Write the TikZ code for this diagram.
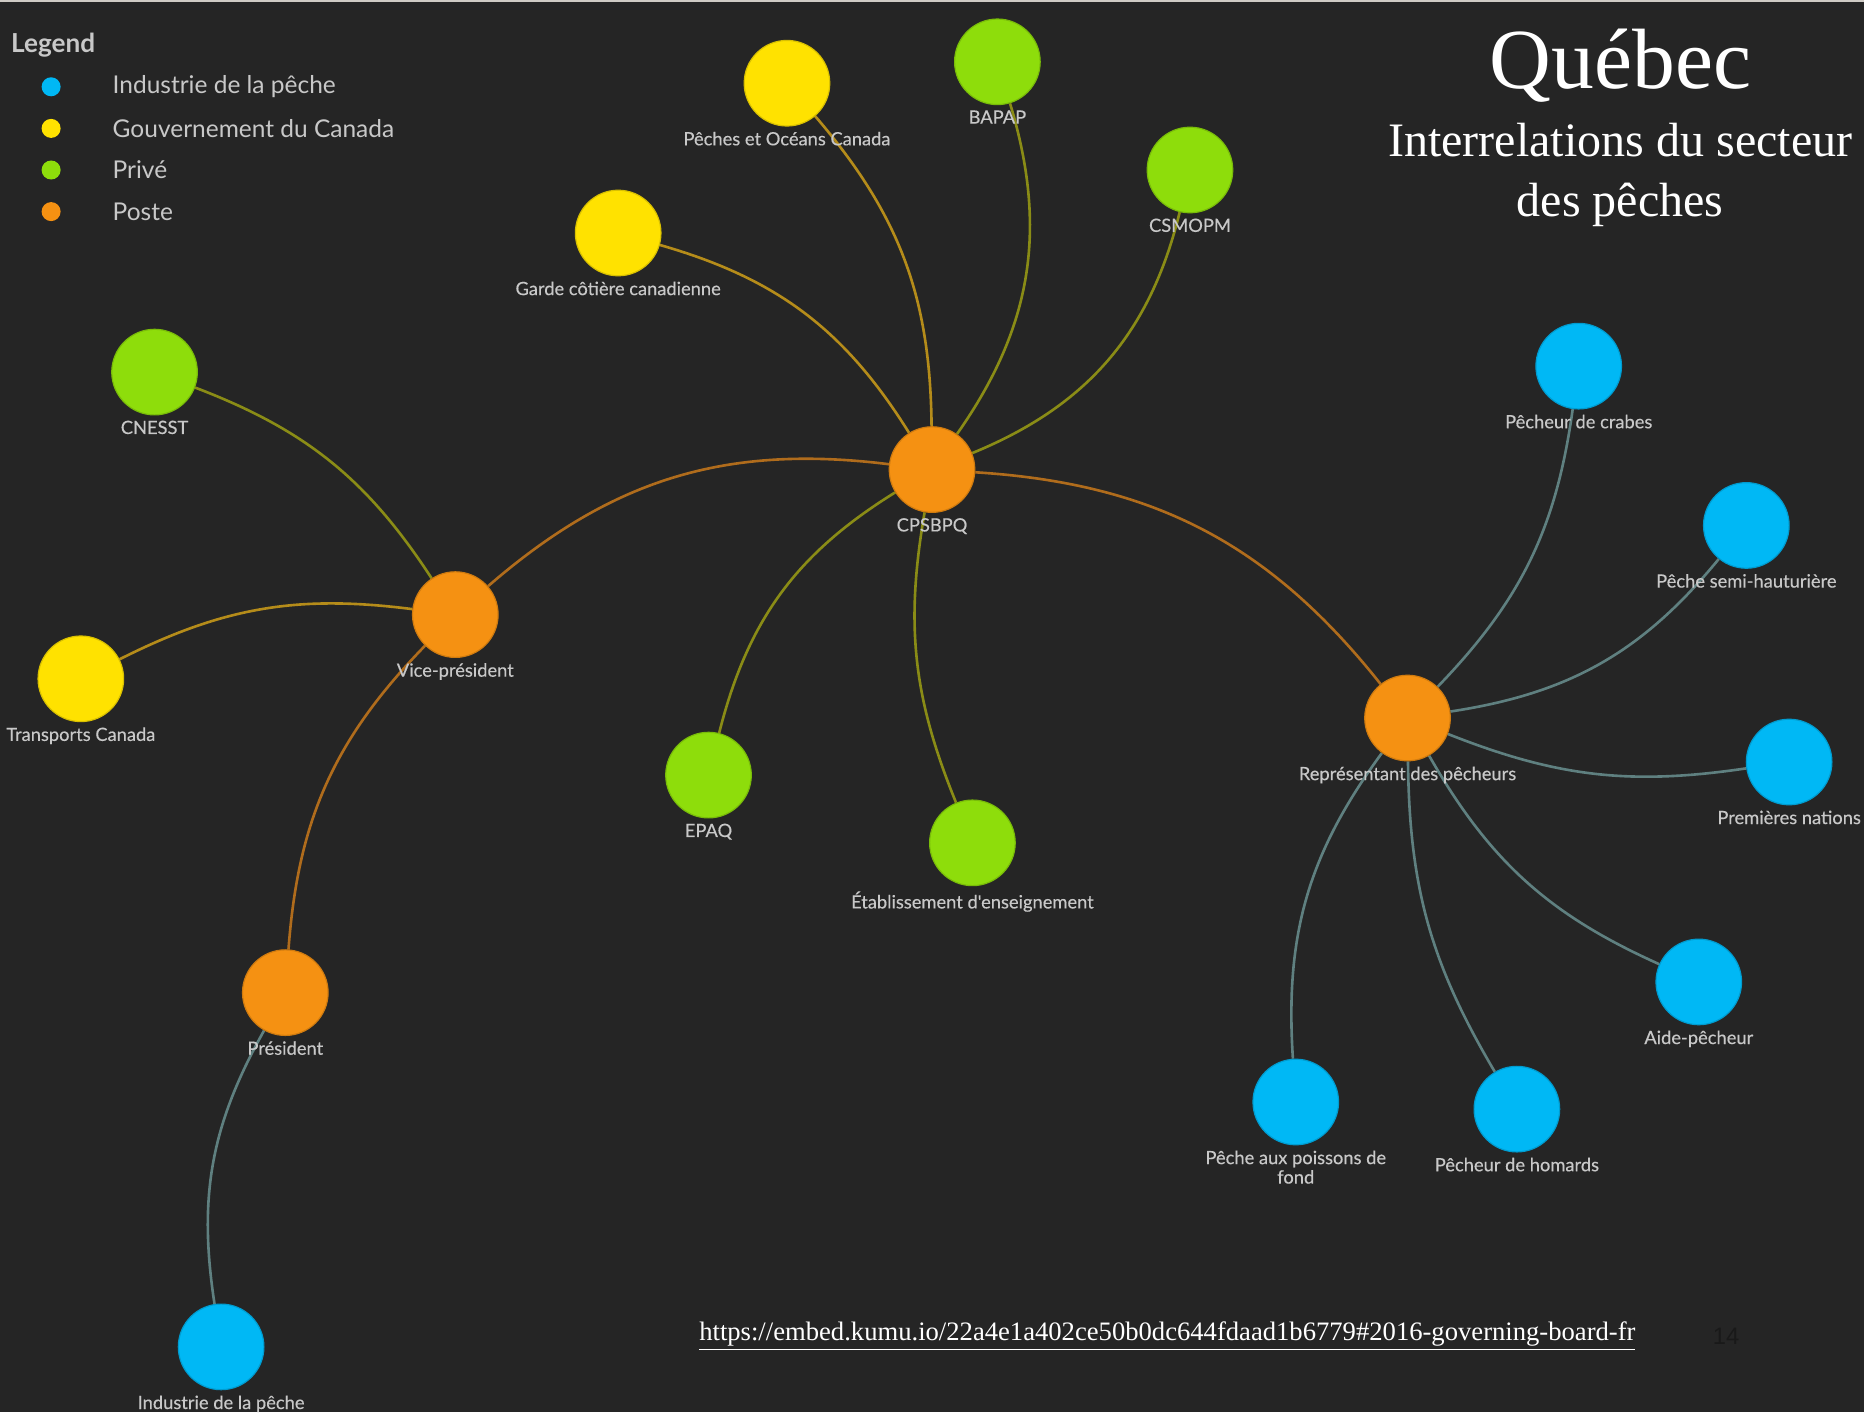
\documentclass[tikz,border=0pt]{standalone}
\usepackage{fontspec}
\setmainfont{Liberation Serif}
\newfontfamily\kumu{Lato}
\newfontfamily\kumulbl[FakeBold=0.3]{Lato}
\newfontfamily\pagenum{Liberation Sans}
\usetikzlibrary{positioning}

\definecolor{bgdark}{HTML}{252525}
\definecolor{topgray}{HTML}{CFCBC5}
\definecolor{peche}{HTML}{00B8F5}
\definecolor{gouv}{HTML}{FFE200}
\definecolor{prive}{HTML}{8EDD0B}
\definecolor{poste}{HTML}{F59112}
\definecolor{txtgray}{HTML}{C8C8C8}
\definecolor{linkO}{HTML}{B06C1C}
\definecolor{linkY}{HTML}{B58C1A}
\definecolor{linkG}{HTML}{8A8C16}
\definecolor{linkB}{HTML}{5F8080}

\pgfdeclarelayer{canvas}
\pgfdeclarelayer{links}
\pgfsetlayers{canvas,links,main}

\tikzset{
  ent/.style={circle, minimum size=36pt, inner sep=0pt, fill=#1, draw=#1!85!black, line width=0.5pt},
  lbl/.style={font=\kumulbl\fontsize{7.7}{8.2}\selectfont, text=txtgray, align=center, inner sep=0pt},
  lnk/.style={draw=#1, line width=1.1pt},
  legdot/.style={circle, minimum size=8pt, inner sep=0pt, fill=#1},
  legtxt/.style={font=\kumu\fontsize{10.3}{12}\selectfont, text=txtgray, inner sep=0pt}
}

\begin{document}
\begin{tikzpicture}[x=0.5pt, y=-0.5pt, label distance=2pt]
  \begin{pgfonlayer}{canvas}
    \fill[bgdark] (0,0) rectangle (1568,1188);
    \fill[topgray] (0,0) rectangle (1568,2);
  \end{pgfonlayer}

  \node[legtxt, font=\kumu\bfseries\fontsize{11}{13}\selectfont, anchor=west] (legend) at (9,38) {Legend};
  \node[legdot=peche] (kpeche) at (43,73) {};
  \node[legdot=gouv] (kgouv) at (43,108) {};
  \node[legdot=prive] (kprive) at (43,143) {};
  \node[legdot=poste] (kposte) at (43,178) {};
  \node[legtxt, right=21.5pt of kpeche] {Industrie de la pêche};
  \node[legtxt, right=21.5pt of kgouv] {Gouvernement du Canada};
  \node[legtxt, right=21.5pt of kprive] {Privé};
  \node[legtxt, right=21.5pt of kposte] {Poste};

  \node[text=white, font=\fontsize{36}{38}\selectfont] (qc) at (1363,55) {Québec};
  \node[text=white, font=\fontsize{20.2}{25}\selectfont, align=center] (sub) at (1363,147) {Interrelations du secteur\\des pêches};

  \node[ent=poste, label={[lbl]below:CPSBPQ}] (cps) at (784,395) {};
  \node[ent=poste, label={[lbl]below:Vice-président}] (vp) at (383,517) {};
  \node[ent=poste, label={[lbl]below:Président}] (pres) at (240,835) {};
  \node[ent=poste, label={[lbl]below:Représentant des pêcheurs}] (rep) at (1184,604) {};

  \node[ent=gouv, label={[lbl]below:Pêches et Océans Canada}] (mpo) at (662,70) {};
  \node[ent=gouv, label={[lbl]below:Garde côtière canadienne}] (garde) at (520,196) {};
  \node[ent=gouv, label={[lbl]below:Transports Canada}] (tc) at (68,571) {};

  \node[ent=prive, label={[lbl]below:BAPAP}] (bapap) at (839,52) {};
  \node[ent=prive, label={[lbl]below:CSMOPM}] (csmopm) at (1001,143) {};
  \node[ent=prive, label={[lbl]below:CNESST}] (cnesst) at (130,313) {};
  \node[ent=prive, label={[lbl]below:EPAQ}] (epaq) at (596,652) {};
  \node[ent=prive, label={[lbl]below:Établissement d'enseignement}] (etab) at (818,709) {};

  \node[ent=peche, label={[lbl]below:Pêcheur de crabes}] (crabes) at (1328,308) {};
  \node[ent=peche, label={[lbl]below:Pêche semi-hauturière}] (semi) at (1469,442) {};
  \node[ent=peche, label={[lbl]below:Premières nations}] (pn) at (1505,641) {};
  \node[ent=peche, label={[lbl]below:Aide-pêcheur}] (aide) at (1429,826) {};
  \node[ent=peche, label={[lbl]below:Pêcheur de homards}] (homards) at (1276,933) {};
  \node[ent=peche, label={[lbl]below:Pêche aux poissons de\\fond}] (fond) at (1090,927) {};
  \node[ent=peche, label={[lbl]below:Industrie de la pêche}] (ind) at (186,1133) {};

  \begin{pgfonlayer}{links}
    \draw[lnk=linkY] (cps) to[bend right=20] (mpo);
    \draw[lnk=linkG] (cps) to[bend right=26] (bapap);
    \draw[lnk=linkG] (cps) to[bend right=27] (csmopm);
    \draw[lnk=linkY] (cps) to[bend right=21] (garde);
    \draw[lnk=linkO] (cps) to[bend right=24] (vp);
    \draw[lnk=linkG] (cps) to[bend right=22] (epaq);
    \draw[lnk=linkG] (cps) to[bend right=16] (etab);
    \draw[lnk=linkO] (cps) to[bend left=24] (rep);
    \draw[lnk=linkG] (vp) to[bend right=18] (cnesst);
    \draw[lnk=linkY] (vp) to[bend right=17] (tc);
    \draw[lnk=linkO] (vp) to[bend right=20] (pres);
    \draw[lnk=linkB] (pres) to[bend right=19] (ind);
    \draw[lnk=linkB] (rep) to[bend right=18] (crabes);
    \draw[lnk=linkB] (rep) to[bend right=21] (semi);
    \draw[lnk=linkB] (rep) to[bend right=15] (pn);
    \draw[lnk=linkB] (rep) to[bend right=18] (aide);
    \draw[lnk=linkB] (rep) to[bend right=15] (homards);
    \draw[lnk=linkB] (rep) to[bend right=20] (fond);
  \end{pgfonlayer}

  \node[text=white, font=\fontsize{11.2}{13}\selectfont] (url) at (982,1124) {\underline{https://embed.kumu.io/22a4e1a402ce50b0dc644fdaad1b6779\#2016-governing-board-fr}};
  \node[text=black!90, font=\pagenum\fontsize{10}{12}\selectfont] (page) at (1452,1124) {14};
\end{tikzpicture}
\end{document}
